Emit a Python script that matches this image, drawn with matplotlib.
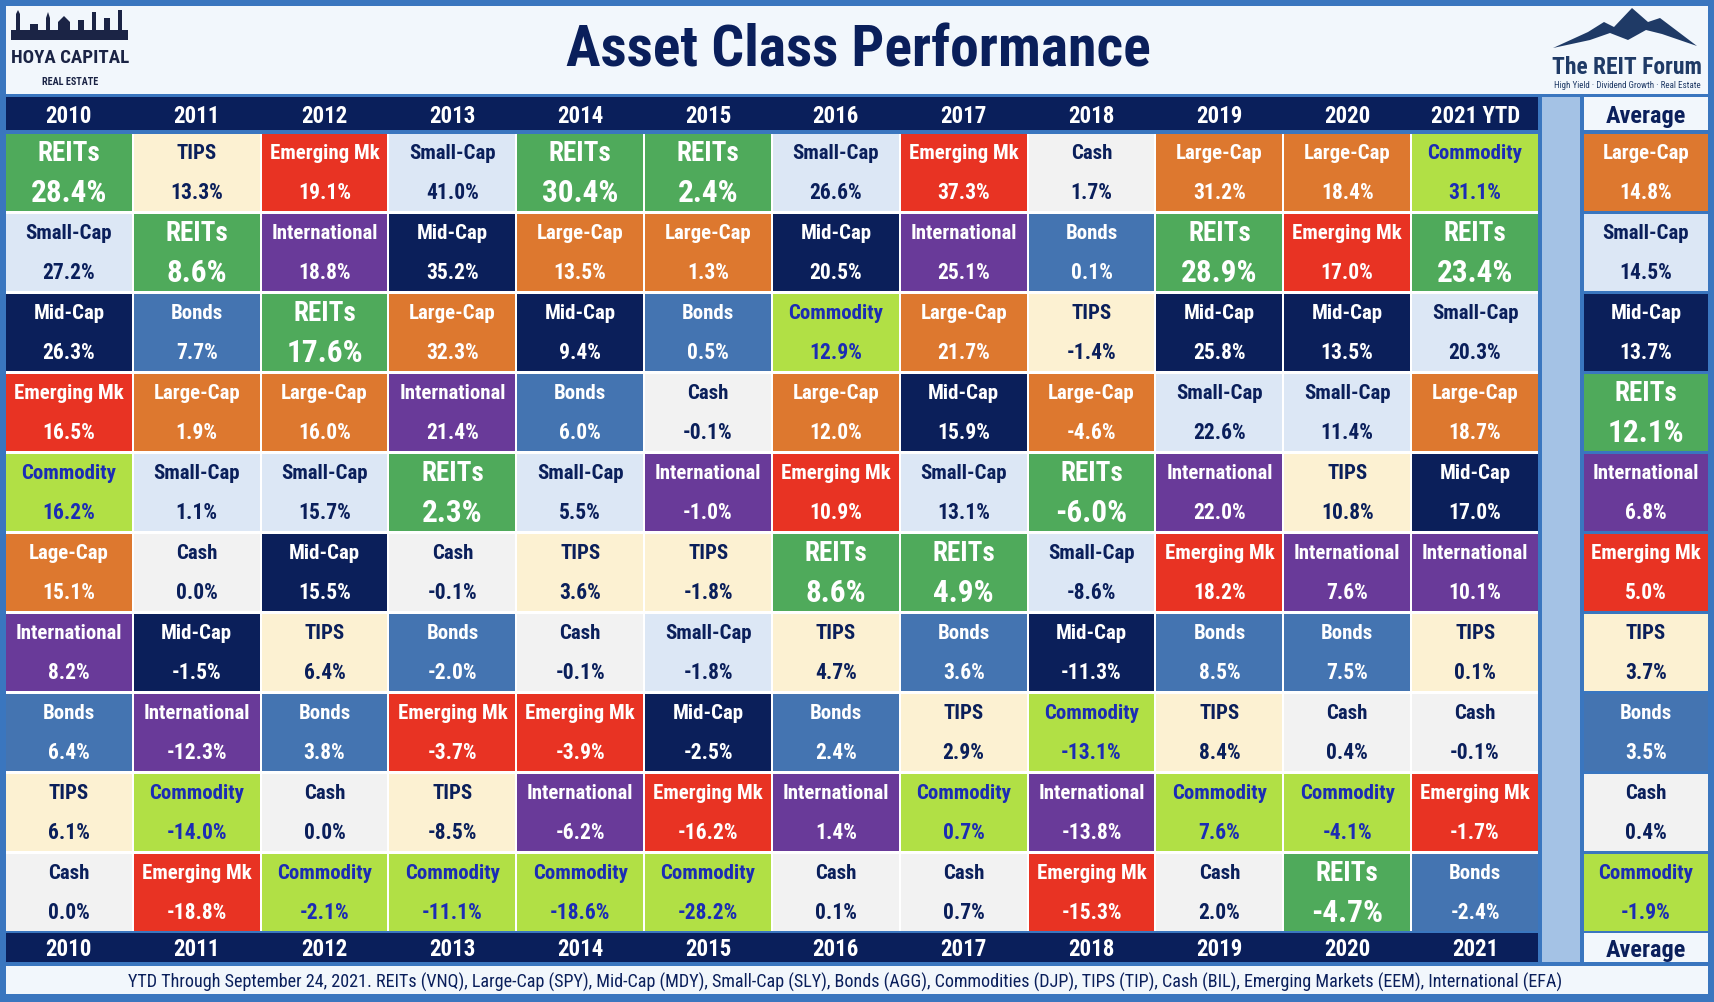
import numpy as np
import matplotlib.pyplot as plt
import matplotlib.font_manager as fm
from matplotlib.patches import Rectangle, Polygon

# ---- data ----
years = ["2010", "2011", "2012", "2013", "2014", "2015", "2016", "2017",
         "2018", "2019", "2020", "2021 YTD"]
bottom_years = years[:-1] + ["2021"]

# asset class in each rank (best -> worst), one list per year
classes = [
    ["REITs", "Small-Cap", "Mid-Cap", "Emerging Mk", "Commodity", "Lage-Cap", "International", "Bonds", "TIPS", "Cash"],
    ["TIPS", "REITs", "Bonds", "Large-Cap", "Small-Cap", "Cash", "Mid-Cap", "International", "Commodity", "Emerging Mk"],
    ["Emerging Mk", "International", "REITs", "Large-Cap", "Small-Cap", "Mid-Cap", "TIPS", "Bonds", "Cash", "Commodity"],
    ["Small-Cap", "Mid-Cap", "Large-Cap", "International", "REITs", "Cash", "Bonds", "Emerging Mk", "TIPS", "Commodity"],
    ["REITs", "Large-Cap", "Mid-Cap", "Bonds", "Small-Cap", "TIPS", "Cash", "Emerging Mk", "International", "Commodity"],
    ["REITs", "Large-Cap", "Bonds", "Cash", "International", "TIPS", "Small-Cap", "Mid-Cap", "Emerging Mk", "Commodity"],
    ["Small-Cap", "Mid-Cap", "Commodity", "Large-Cap", "Emerging Mk", "REITs", "TIPS", "Bonds", "International", "Cash"],
    ["Emerging Mk", "International", "Large-Cap", "Mid-Cap", "Small-Cap", "REITs", "Bonds", "TIPS", "Commodity", "Cash"],
    ["Cash", "Bonds", "TIPS", "Large-Cap", "REITs", "Small-Cap", "Mid-Cap", "Commodity", "International", "Emerging Mk"],
    ["Large-Cap", "REITs", "Mid-Cap", "Small-Cap", "International", "Emerging Mk", "Bonds", "TIPS", "Commodity", "Cash"],
    ["Large-Cap", "Emerging Mk", "Mid-Cap", "Small-Cap", "TIPS", "International", "Bonds", "Cash", "Commodity", "REITs"],
    ["Commodity", "REITs", "Small-Cap", "Large-Cap", "Mid-Cap", "International", "TIPS", "Cash", "Emerging Mk", "Bonds"],
]
returns = [
    [28.4, 27.2, 26.3, 16.5, 16.2, 15.1, 8.2, 6.4, 6.1, 0.0],
    [13.3, 8.6, 7.7, 1.9, 1.1, 0.0, -1.5, -12.3, -14.0, -18.8],
    [19.1, 18.8, 17.6, 16.0, 15.7, 15.5, 6.4, 3.8, 0.0, -2.1],
    [41.0, 35.2, 32.3, 21.4, 2.3, -0.1, -2.0, -3.7, -8.5, -11.1],
    [30.4, 13.5, 9.4, 6.0, 5.5, 3.6, -0.1, -3.9, -6.2, -18.6],
    [2.4, 1.3, 0.5, -0.1, -1.0, -1.8, -1.8, -2.5, -16.2, -28.2],
    [26.6, 20.5, 12.9, 12.0, 10.9, 8.6, 4.7, 2.4, 1.4, 0.1],
    [37.3, 25.1, 21.7, 15.9, 13.1, 4.9, 3.6, 2.9, 0.7, 0.7],
    [1.7, 0.1, -1.4, -4.6, -6.0, -8.6, -11.3, -13.1, -13.8, -15.3],
    [31.2, 28.9, 25.8, 22.6, 22.0, 18.2, 8.5, 8.4, 7.6, 2.0],
    [18.4, 17.0, 13.5, 11.4, 10.8, 7.6, 7.5, 0.4, -4.1, -4.7],
    [31.1, 23.4, 20.3, 18.7, 17.0, 10.1, 0.1, -0.1, -1.7, -2.4],
]
avg_classes = ["Large-Cap", "Small-Cap", "Mid-Cap", "REITs", "International",
               "Emerging Mk", "TIPS", "Bonds", "Cash", "Commodity"]
avg_returns = [14.8, 14.5, 13.7, 12.1, 6.8, 5.0, 3.7, 3.5, 0.4, -1.9]

footer = ("YTD Through September 24, 2021. REITs (VNQ), Large-Cap (SPY), Mid-Cap (MDY), "
          "Small-Cap (SLY), Bonds (AGG), Commodities (DJP), TIPS (TIP), Cash (BIL), "
          "Emerging Markets (EEM), International (EFA)")

# ---- styles ----
BORDER = "#3A76BF"
LIGHT = "#F2F7FC"
NAVY = "#0A1F5B"
GAPBLUE = "#A4C2E5"
WHITE = "white"
palette = {
    "REITs": ("#4FAA5B", WHITE),
    "TIPS": ("#FCF1D2", NAVY),
    "Emerging Mk": ("#E83323", WHITE),
    "Small-Cap": ("#DCE7F5", NAVY),
    "International": ("#693A99", WHITE),
    "Mid-Cap": ("#0B1F5A", WHITE),
    "Large-Cap": ("#DD782F", WHITE),
    "Lage-Cap": ("#DD782F", WHITE),
    "Bonds": ("#4474B1", WHITE),
    "Commodity": ("#B1E045", "#1B2CB5"),
    "Cash": ("#F2F2F2", NAVY),
}

# pick a narrow font if one is installed, else fall back to DejaVu
entries = fm.fontManager.ttflist
names = {f.name for f in entries}
FAMILY, STRETCH = "DejaVu Sans", "normal"
for n in ["Liberation Sans Narrow", "Roboto Condensed", "Open Sans Condensed",
          "Noto Sans Condensed", "DejaVu Sans Condensed", "Noto Sans Display Condensed"]:
    if n in names:
        FAMILY = n
        break
else:
    for f in entries:
        st = f.stretch
        narrow = st in ("condensed", "semi-condensed", "extra-condensed",
                        "ultra-condensed") or (isinstance(st, (int, float)) and st < 500)
        if narrow and "Mono" not in f.name:
            FAMILY, STRETCH = f.name, "condensed"
            break
plt.rcParams["font.family"] = [FAMILY, "DejaVu Sans"]
plt.rcParams["font.stretch"] = STRETCH

W, H = 1714, 1002
fig = plt.figure(figsize=(W / 100, H / 100), dpi=100)
fig.patch.set_facecolor(BORDER)
ax = fig.add_axes([0, 0, 1, 1])
ax.set_xlim(0, W)
ax.set_ylim(H, 0)
ax.axis("off")

fits = []  # (text, max width in px)


def box(x0, y0, x1, y1, color):
    ax.add_patch(Rectangle((x0, y0), x1 - x0, y1 - y0, facecolor=color,
                           edgecolor="none", zorder=1))


def label(x, y, s, size, color, maxw, bold=True):
    t = ax.text(x, y, s, ha="center", va="center", fontsize=size,
                fontweight="bold" if bold else "normal", color=color,
                fontstretch=STRETCH, zorder=3)
    fits.append((t, maxw))
    return t


# layout
grid_left, grid_right = 6, 1540
grid_top, row_pitch, cell_h = 134, 80, 77
col_pitch = (grid_right - grid_left) / len(years)
avg_x0, avg_x1 = 1584, 1708
n_rows = len(avg_classes)
grid_bottom = grid_top + (n_rows - 1) * row_pitch + cell_h

# header
box(6, 6, 1708, 94, LIGHT)
label(858, 51, "Asset Class Performance", 46, NAVY, 585)

# Hoya Capital logo (left)
sky = [(11, 40), (11, 30), (16, 30), (16, 14), (18, 10), (20, 14), (20, 30),
       (30, 30), (30, 24), (38, 24), (38, 30), (46, 30), (46, 18), (48, 12),
       (50, 18), (50, 30), (58, 30), (58, 22), (64, 16), (70, 22), (70, 30),
       (78, 30), (78, 20), (84, 20), (84, 30), (92, 30), (92, 12), (96, 12),
       (96, 30), (104, 30), (104, 18), (110, 18), (110, 30), (118, 30),
       (118, 10), (122, 10), (122, 30), (128, 30), (128, 40)]
ax.add_patch(Polygon(sky, closed=True, facecolor="#1B2445", edgecolor="none", zorder=3))
label(70, 58, "HOYA CAPITAL", 22, "#1B2445", 118)
label(70, 82, "REAL ESTATE", 11, "#1B2445", 56)

# The REIT Forum logo (right)
mount = [(1553, 48), (1588, 32), (1604, 22), (1614, 27), (1632, 8), (1648, 22),
         (1660, 18), (1697, 46), (1662, 34), (1646, 30), (1628, 40), (1610, 33),
         (1590, 40)]
ax.add_patch(Polygon(mount, closed=True, facecolor="#1F3A66", edgecolor="none", zorder=3))
label(1627, 67, "The REIT Forum", 17, "#1F3A66", 150)
label(1627, 85, "High Yield · Dividend Growth · Real Estate", 8, "#1F3A66", 146,
      bold=False)

# frame pieces
box(grid_left, 97, grid_right - 2, 130, NAVY)
box(grid_left, grid_bottom + 2, grid_right - 2, 962, NAVY)
box(1542, 97, 1580, 962, GAPBLUE)
box(avg_x0, 97, avg_x1, 130, LIGHT)
box(avg_x0, grid_bottom + 2, avg_x1, 962, LIGHT)
box(6, 966, 1708, 994, LIGHT)
box(grid_left, grid_top, grid_right - 2, grid_bottom, WHITE)

for j, yr in enumerate(years):
    cx = grid_left + (j + 0.5) * col_pitch - 1
    label(cx, 116, yr, 16.5, WHITE, 112)
    label(cx, 950, bottom_years[j], 16.5, WHITE, 112)
label((avg_x0 + avg_x1) / 2, 116, "Average", 17.5, NAVY, 84)
label((avg_x0 + avg_x1) / 2, 950, "Average", 17.5, NAVY, 84)


def cell(x0, x1, y0, name, val):
    bg, fg = palette[name]
    box(x0, y0, x1, y0 + cell_h, bg)
    cx = (x0 + x1) / 2
    big = name == "REITs"
    label(cx, y0 + 0.25 * cell_h, name, 19.5 if big else 15, fg, 112)
    label(cx, y0 + 0.765 * cell_h, f"{val:.1f}%", 22.5 if big else 15.5, fg, 112)


for j in range(len(years)):
    x0 = grid_left + j * col_pitch
    for i in range(n_rows):
        cell(x0, x0 + col_pitch - 2, grid_top + i * row_pitch,
             classes[j][i], returns[j][i])

for i in range(n_rows):
    cell(avg_x0, avg_x1, grid_top + i * row_pitch, avg_classes[i], avg_returns[i])

label(845, 982, footer, 13.5, NAVY, 1440, bold=False)

# shrink any text wider than its box
fig.canvas.draw()
rend = fig.canvas.get_renderer()
for t, maxw in fits:
    w = t.get_window_extent(rend).width
    if w > maxw:
        t.set_fontsize(t.get_fontsize() * maxw / w)

fig.savefig("out.png", dpi=100, facecolor=BORDER)
